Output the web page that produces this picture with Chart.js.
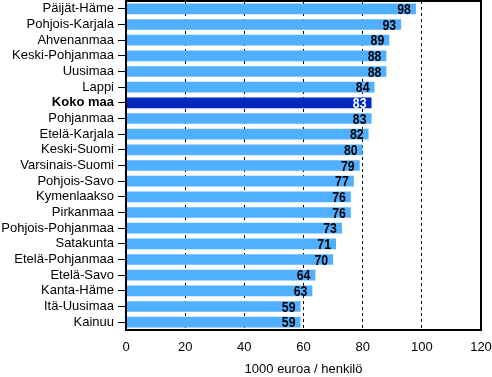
<!DOCTYPE html>
<html>
<head>
<meta charset="utf-8">
<script src="https://cdn.jsdelivr.net/npm/chart.js@4"></script>
<style>
  html, body { margin: 0; padding: 0; background: #fff; }
  #wrap { width: 492px; height: 377px; }
</style>
</head>
<body>
<div id="wrap"><canvas id="myChart" width="492" height="377"></canvas></div>
<script>
// Data
const regions = ['Päijät-Häme', 'Pohjois-Karjala', 'Ahvenanmaa', 'Keski-Pohjanmaa', 'Uusimaa', 'Lappi',
	'Koko maa', 'Pohjanmaa', 'Etelä-Karjala', 'Keski-Suomi', 'Varsinais-Suomi', 'Pohjois-Savo',
	'Kymenlaakso', 'Pirkanmaa', 'Pohjois-Pohjanmaa', 'Satakunta', 'Etelä-Pohjanmaa', 'Etelä-Savo',
	'Kanta-Häme', 'Itä-Uusimaa', 'Kainuu'];
const values = [98, 93, 89, 88, 88, 84, 83, 83, 82, 80, 79, 77, 76, 76, 73, 71, 70, 64, 63, 59, 59];
const xTicks = [0, 20, 40, 60, 80, 100, 120];
const totalLabel = 'Koko maa';

const light = '#50afff';
const dark = '#0028be';

// value labels drawn at the end of each bar (narrow bold digits)
const valueLabels = {
	id: 'valueLabels',
	afterDatasetsDraw(chart) {
		const ctx = chart.ctx;
		const meta = chart.getDatasetMeta(0);
		meta.data.forEach((bar, i) => {
			ctx.save();
			ctx.font = 'bold 15px "Liberation Sans", Arial, sans-serif';
			ctx.textAlign = 'right';
			ctx.textBaseline = 'middle';
			ctx.fillStyle = regions[i] === totalLabel ? '#fff' : '#000';
			ctx.translate(bar.x - 5, bar.y + 1);
			ctx.scale(0.82, 1);
			ctx.fillText(String(values[i]), 0, 0);
			ctx.restore();
		});
	}
};

// black frame around the plot
const frame = {
	id: 'frame',
	afterDraw(chart) {
		const a = chart.chartArea;
		const ctx = chart.ctx;
		ctx.save();
		ctx.strokeStyle = '#000';
		ctx.lineWidth = 2;
		ctx.strokeRect(a.left, a.top, a.right - a.left, a.bottom - a.top);
		ctx.restore();
	}
};

const canvas = document.getElementById('myChart');
const myChart = new Chart(canvas, {
	type: 'bar',
	data: {
		labels: regions,
		datasets: [{
			data: values,
			backgroundColor: regions.map(r => r === totalLabel ? dark : light),
			borderWidth: 0,
			categoryPercentage: 1,
			barPercentage: 0.68
		}]
	},
	options: {
		indexAxis: 'y',
		responsive: false,
		animation: false,
		layout: { padding: { top: 1, right: 11, bottom: 0, left: 0 } },
		plugins: {
			legend: { display: false },
			tooltip: { enabled: false }
		},
		scales: {
			x: {
				min: 0,
				max: 120,
				afterBuildTicks: (s) => { s.ticks = xTicks.map(v => ({ value: v })); },
				afterFit: (s) => { s.height = 47; s.paddingLeft = 0; s.paddingRight = 0; },
				grid: {
					drawTicks: false,
					color: (c) => (c.tick && (c.tick.value === 0 || c.tick.value === 120)) ? 'rgba(0,0,0,0)' : '#000',
					lineWidth: 1
				},
				border: { display: false, dash: [3, 3] },
				ticks: {
					color: '#000',
					padding: 10,
					font: { family: '"Liberation Sans", Arial, sans-serif', size: 13 }
				},
				title: {
					display: true,
					text: '1000 euroa / henkilö',
					color: '#000',
					padding: { top: 0, bottom: 0 },
					font: { family: '"Liberation Sans", Arial, sans-serif', size: 13 }
				}
			},
			y: {
				afterFit: (s) => { s.width = 126; s.paddingTop = 0; s.paddingBottom = 0; },
				grid: {
					offset: false,
					drawOnChartArea: false,
					tickLength: 8,
					color: '#000'
				},
				border: { display: false },
				ticks: {
					color: '#000',
					padding: 4,
					autoSkip: false,
					font: (c) => ({
						family: '"Liberation Sans", Arial, sans-serif',
						size: 13,
						weight: regions[c.index] === totalLabel ? 'bold' : 'normal'
					})
				}
			}
		}
	},
	plugins: [valueLabels, frame]
});
</script>
</body>
</html>
